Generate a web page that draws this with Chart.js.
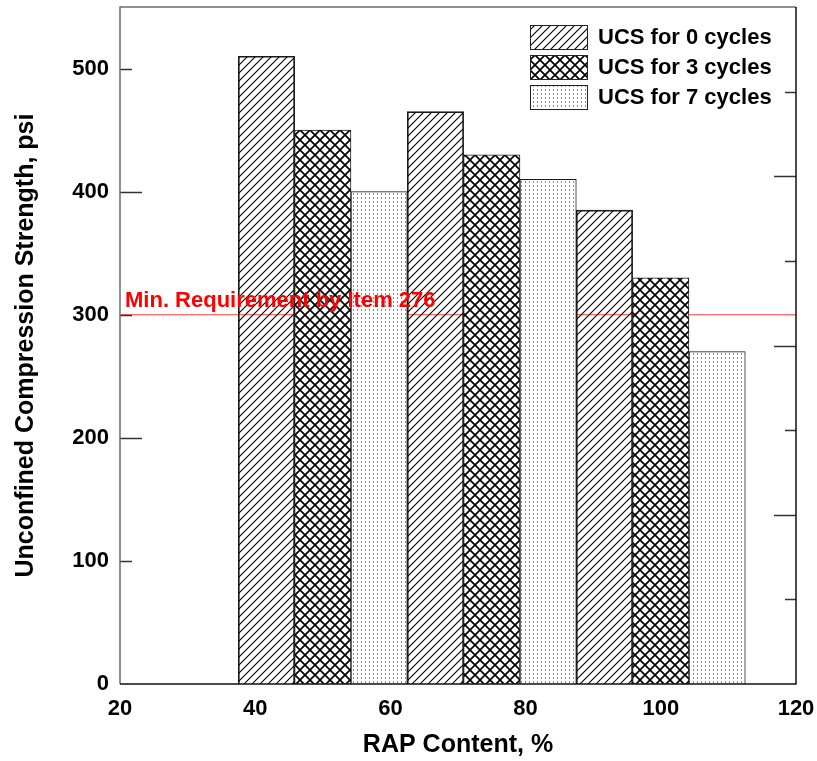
<!DOCTYPE html>
<html>
<head>
<meta charset="utf-8">
<script src="https://cdn.jsdelivr.net/npm/chart.js@4.4.1/dist/chart.umd.min.js"></script>
<style>
  html, body { margin: 0; padding: 0; background: #ffffff; }
  #wrap { width: 817px; height: 761px; }
</style>
</head>
<body>
<div id="wrap"><canvas id="chart" width="817" height="761"></canvas></div>
<script>
// RAP content groups (%) and unconfined compression strength (psi)
const rapContent = [50, 75, 100];
const seriesLabels = ['UCS for 0 cycles', 'UCS for 3 cycles', 'UCS for 7 cycles'];
const ucs0Cycles = [510, 465, 385];
const ucs3Cycles = [450, 430, 330];
const ucs7Cycles = [400, 410, 270];
const minRequirement = 300;
const minRequirementLabel = 'Min. Requirement by Item 276';
const xAxisTitle = 'RAP Content, %';
const yAxisTitle = 'Unconfined Compression Strength, psi';

const seriesValues = [ucs0Cycles, ucs3Cycles, ucs7Cycles];
const groupWidth = 25;               // each RAP group spans 25 % on the x axis
const barStep = groupWidth / 3;      // three adjacent bars per group

const FONT = "'Liberation Sans', Arial, Helvetica, sans-serif";

// ---- fill patterns -------------------------------------------------------
function makePattern(kind) {
  const c = document.createElement('canvas');
  const g = c.getContext('2d');
  if (kind === 'diag') {
    const s = 8;
    c.width = s; c.height = s;
    g.strokeStyle = '#000';
    g.lineWidth = 1.1;
    g.beginPath();
    g.moveTo(0, s); g.lineTo(s, 0);
    g.moveTo(-1, 1); g.lineTo(1, -1);
    g.moveTo(s - 1, s + 1); g.lineTo(s + 1, s - 1);
    g.stroke();
  } else if (kind === 'cross') {
    const s = 10;
    c.width = s; c.height = s;
    g.fillStyle = '#fff';
    g.fillRect(0, 0, s, s);
    g.strokeStyle = '#000';
    g.lineWidth = 1.7;
    g.beginPath();
    g.moveTo(0, 0); g.lineTo(s, s);
    g.moveTo(0, s); g.lineTo(s, 0);
    g.stroke();
  } else {
    c.width = 4; c.height = 4;
    g.fillStyle = '#fff';
    g.fillRect(0, 0, 4, 4);
    g.fillStyle = '#8c8c8c';
    g.fillRect(1, 1, 1, 2);
  }
  return g.createPattern(c, 'repeat');
}
const patterns = [makePattern('diag'), makePattern('cross'), makePattern('dots')];

// ---- datasets --------------------------------------------------------------
const datasets = seriesValues.map((vals, i) => ({
  label: seriesLabels[i],
  data: rapContent.map((r, j) => ({ x: r + (i - 1) * barStep, y: vals[j] })),
  backgroundColor: patterns[i],
  borderColor: '#1a1a1a',
  borderWidth: 1,
  grouped: false,
  barPercentage: 1,
  categoryPercentage: 1
}));

// ---- plugins ---------------------------------------------------------------
const requirementLine = {
  id: 'requirementLine',
  beforeDatasetsDraw(chart) {
    const { ctx, chartArea, scales } = chart;
    const y = scales.y.getPixelForValue(minRequirement);
    ctx.save();
    ctx.strokeStyle = '#ff3b3b';
    ctx.lineWidth = 1.2;
    ctx.beginPath();
    ctx.moveTo(chartArea.left, y);
    ctx.lineTo(chartArea.right, y);
    ctx.stroke();
    ctx.restore();
  },
  afterDatasetsDraw(chart) {
    const { ctx, chartArea, scales } = chart;
    const y = scales.y.getPixelForValue(minRequirement);
    ctx.save();
    ctx.fillStyle = '#ff0000';
    ctx.font = 'bold 22px ' + FONT;
    ctx.textAlign = 'left';
    ctx.textBaseline = 'alphabetic';
    ctx.fillText(minRequirementLabel, chartArea.left + 5, y - 8);
    ctx.restore();
  }
};

const patternLegend = {
  id: 'patternLegend',
  afterDatasetsDraw(chart) {
    const { ctx, chartArea } = chart;
    const boxX = chartArea.right - 266;
    const boxW = 57, boxH = 24;
    ctx.save();
    chart.data.datasets.forEach((ds, i) => {
      const cy = chartArea.top + 30 + i * 30;
      ctx.fillStyle = '#fff';
      ctx.fillRect(boxX, cy - boxH / 2, boxW, boxH);
      ctx.fillStyle = ds.backgroundColor;
      ctx.fillRect(boxX, cy - boxH / 2, boxW, boxH);
      ctx.strokeStyle = '#222';
      ctx.lineWidth = 1;
      ctx.strokeRect(boxX + 0.5, cy - boxH / 2 + 0.5, boxW, boxH);
      ctx.fillStyle = '#000';
      ctx.font = 'bold 22px ' + FONT;
      ctx.textAlign = 'left';
      ctx.textBaseline = 'middle';
      ctx.fillText(ds.label, boxX + 68, cy + 1);
    });
    ctx.restore();
  }
};

const frameAndTicks = {
  id: 'frameAndTicks',
  afterDraw(chart) {
    const { ctx, chartArea: a, scales } = chart;
    ctx.save();
    // inward tick marks on the left axis: long at multiples of 200
    ctx.strokeStyle = '#333';
    ctx.lineWidth = 1.5;
    scales.y.ticks.forEach(t => {
      if (t.value <= 0) return;
      const y = Math.round(scales.y.getPixelForValue(t.value)) + 0.5;
      const len = t.value % 200 === 0 ? 22 : 12;
      ctx.beginPath();
      ctx.moveTo(a.left, y);
      ctx.lineTo(a.left + len, y);
      ctx.stroke();
    });
    // inward tick marks on the right axis: long at even values
    scales.y2.ticks.forEach(t => {
      if (t.value <= 0 || t.value >= scales.y2.max) return;
      const y = Math.round(scales.y2.getPixelForValue(t.value)) + 0.5;
      const len = t.value % 2 === 0 ? 22 : 11;
      ctx.beginPath();
      ctx.moveTo(a.right, y);
      ctx.lineTo(a.right - len, y);
      ctx.stroke();
    });
    // frame
    ctx.lineWidth = 1.5;
    ctx.strokeStyle = '#6e6e6e';
    ctx.beginPath();
    ctx.moveTo(a.left, a.bottom); ctx.lineTo(a.left, a.top);
    ctx.lineTo(a.right, a.top);
    ctx.stroke();
    ctx.strokeStyle = '#111';
    ctx.beginPath();
    ctx.moveTo(a.right, a.top); ctx.lineTo(a.right, a.bottom);
    ctx.lineTo(a.left, a.bottom);
    ctx.stroke();
    ctx.restore();
  }
};

// ---- chart -----------------------------------------------------------------
Chart.defaults.font.family = FONT;
Chart.defaults.color = '#000';

function noEdgePadding(s) {
  s.paddingTop = 0; s.paddingBottom = 0; s.paddingLeft = 0; s.paddingRight = 0;
}

new Chart(document.getElementById('chart'), {
  type: 'bar',
  data: { datasets },
  options: {
    responsive: false,
    devicePixelRatio: 1,
    animation: false,
    layout: { padding: { top: 7, left: 0, right: 0, bottom: 0 } },
    plugins: {
      legend: { display: false },
      tooltip: { enabled: false }
    },
    scales: {
      x: {
        type: 'linear',
        position: 'bottom',
        offset: false,
        min: 20,
        max: 120,
        grid: { display: false, drawTicks: false, offset: false },
        border: { display: false },
        ticks: { stepSize: 20, padding: 12, font: { size: 22, weight: 'bold' }, color: '#000' },
        title: { display: true, text: xAxisTitle, font: { size: 25, weight: 'bold' }, color: '#000', padding: { top: 0, bottom: 1 } },
        afterFit(s) { s.height = 77; noEdgePadding(s); }
      },
      y: {
        type: 'linear',
        position: 'left',
        min: 0,
        max: 550,
        grid: { display: false, drawTicks: false },
        border: { display: false },
        ticks: { stepSize: 100, padding: 11, font: { size: 22, weight: 'bold' }, color: '#000' },
        afterBuildTicks(s) { s.ticks = s.ticks.filter(t => t.value % 100 === 0); },
        title: { display: true, text: yAxisTitle, font: { size: 25, weight: 'bold' }, color: '#000', padding: { top: 11, bottom: 0 } },
        afterFit(s) { s.width = 120; noEdgePadding(s); }
      },
      y2: {
        type: 'linear',
        position: 'right',
        min: 0,
        max: 8,
        grid: { display: false, drawTicks: false },
        border: { display: false },
        ticks: { stepSize: 1, display: false },
        afterFit(s) { s.width = 21; noEdgePadding(s); }
      }
    }
  },
  plugins: [requirementLine, patternLegend, frameAndTicks]
});
</script>
</body>
</html>
